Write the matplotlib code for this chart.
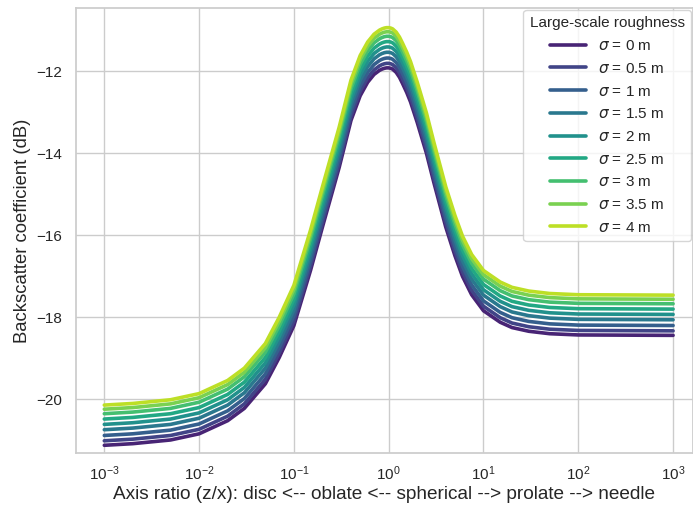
import matplotlib
matplotlib.use("Agg")
import matplotlib.pyplot as plt
from matplotlib.ticker import NullFormatter, NullLocator
import seaborn as sns

# Axis ratio z/x (log scale)
axis_ratio = [0.001, 0.002, 0.005, 0.01, 0.02, 0.03, 0.05, 0.07, 0.1, 0.15,
              0.2, 0.3, 0.4, 0.5, 0.6, 0.7,
              0.8, 0.85, 0.9, 0.95, 1.0, 1.05, 1.1, 1.2, 1.3, 1.4, 1.55, 1.7,
              2.0, 2.5, 3.0, 4.0, 5.0, 6.0, 7.5, 10.0, 15.0, 20.0, 30.0, 50.0,
              100.0, 1000.0]

x_ticks = [1e-3, 1e-2, 1e-1, 1e0, 1e1, 1e2, 1e3]

sigmas = [0, 0.5, 1, 1.5, 2, 2.5, 3, 3.5, 4]

# Backscatter coefficient (dB) for each roughness sigma
bsc_s0 = [-21.12, -21.08, -20.99, -20.84, -20.52, -20.22, -19.62, -18.98, -18.20, -16.85,
          -15.80, -14.35, -13.20, -12.60, -12.27, -12.08,
          -11.98, -11.95, -11.93, -11.92, -11.92, -11.93, -11.95, -12.03, -12.15, -12.30, -12.52, -12.75,
          -13.25, -14.00, -14.72, -15.80, -16.50, -17.00, -17.45, -17.84, -18.12, -18.25, -18.34, -18.40,
          -18.43, -18.44]
bsc_s05 = [-21.01, -20.97, -20.88, -20.73, -20.41, -20.11, -19.51, -18.87, -18.09, -16.74,
           -15.69, -14.24, -13.09, -12.49, -12.16, -11.97,
           -11.87, -11.84, -11.82, -11.81, -11.81, -11.82, -11.84, -11.92, -12.04, -12.19, -12.41, -12.64,
           -13.14, -13.89, -14.61, -15.69, -16.39, -16.89, -17.34, -17.73, -18.01, -18.14, -18.23, -18.29,
           -18.32, -18.33]
bsc_s1 = [-20.88, -20.84, -20.75, -20.60, -20.28, -19.98, -19.38, -18.74, -17.96, -16.61,
          -15.56, -14.11, -12.96, -12.36, -12.03, -11.84,
          -11.74, -11.71, -11.69, -11.68, -11.68, -11.69, -11.71, -11.79, -11.91, -12.06, -12.28, -12.51,
          -13.01, -13.76, -14.48, -15.56, -16.26, -16.76, -17.21, -17.60, -17.88, -18.01, -18.10, -18.16,
          -18.19, -18.20]
bsc_s15 = [-20.74, -20.70, -20.61, -20.46, -20.14, -19.84, -19.24, -18.60, -17.82, -16.47,
           -15.42, -13.97, -12.82, -12.22, -11.89, -11.70,
           -11.60, -11.57, -11.55, -11.54, -11.54, -11.55, -11.57, -11.65, -11.77, -11.92, -12.14, -12.37,
           -12.87, -13.62, -14.34, -15.42, -16.12, -16.62, -17.07, -17.46, -17.74, -17.87, -17.96, -18.02,
           -18.05, -18.06]
bsc_s2 = [-20.61, -20.57, -20.48, -20.33, -20.01, -19.71, -19.11, -18.47, -17.69, -16.34,
          -15.29, -13.84, -12.69, -12.09, -11.76, -11.57,
          -11.47, -11.44, -11.42, -11.41, -11.41, -11.42, -11.44, -11.52, -11.64, -11.79, -12.01, -12.24,
          -12.74, -13.49, -14.21, -15.29, -15.99, -16.49, -16.94, -17.33, -17.61, -17.74, -17.83, -17.89,
          -17.92, -17.93]
bsc_s25 = [-20.48, -20.44, -20.35, -20.20, -19.88, -19.58, -18.98, -18.34, -17.56, -16.21,
           -15.16, -13.71, -12.56, -11.96, -11.63, -11.44,
           -11.34, -11.31, -11.29, -11.28, -11.28, -11.29, -11.31, -11.39, -11.51, -11.66, -11.88, -12.11,
           -12.61, -13.36, -14.08, -15.16, -15.86, -16.36, -16.81, -17.20, -17.48, -17.61, -17.70, -17.76,
           -17.79, -17.80]
bsc_s3 = [-20.35, -20.31, -20.22, -20.07, -19.75, -19.45, -18.85, -18.21, -17.43, -16.08,
          -15.03, -13.58, -12.43, -11.83, -11.50, -11.31,
          -11.21, -11.18, -11.16, -11.15, -11.15, -11.16, -11.18, -11.26, -11.38, -11.53, -11.75, -11.98,
          -12.48, -13.23, -13.95, -15.03, -15.73, -16.23, -16.68, -17.07, -17.35, -17.48, -17.57, -17.63,
          -17.66, -17.67]
bsc_s35 = [-20.24, -20.20, -20.11, -19.96, -19.64, -19.34, -18.74, -18.10, -17.32, -15.97,
           -14.92, -13.47, -12.32, -11.72, -11.39, -11.20,
           -11.10, -11.07, -11.05, -11.04, -11.04, -11.05, -11.07, -11.15, -11.27, -11.42, -11.64, -11.87,
           -12.37, -13.12, -13.84, -14.92, -15.62, -16.12, -16.57, -16.96, -17.24, -17.37, -17.46, -17.52,
           -17.55, -17.56]
bsc_s4 = [-20.14, -20.10, -20.01, -19.86, -19.54, -19.24, -18.64, -18.00, -17.22, -15.87,
          -14.82, -13.37, -12.22, -11.62, -11.29, -11.10,
          -11.00, -10.97, -10.95, -10.94, -10.94, -10.95, -10.97, -11.05, -11.17, -11.32, -11.54, -11.77,
          -12.27, -13.02, -13.74, -14.82, -15.52, -16.02, -16.47, -16.86, -17.14, -17.27, -17.36, -17.42,
          -17.45, -17.46]

curves = [bsc_s0, bsc_s05, bsc_s1, bsc_s15, bsc_s2, bsc_s25, bsc_s3, bsc_s35, bsc_s4]

sns.set_theme(style="whitegrid")
plt.rcParams["font.family"] = ["Liberation Sans", "DejaVu Sans"]

colors = sns.color_palette("viridis", len(sigmas))

fig = plt.figure(figsize=(6.93, 5.15), dpi=100)
ax = fig.add_axes([0.1092, 0.121, 1.0 - 0.1092, 0.9845 - 0.121])

for sigma, values, color in zip(sigmas, curves, colors):
    ax.plot(axis_ratio, values, color=color, linewidth=2.6,
            label=rf"$\sigma$ = {sigma:g} m")

ax.set_xscale("log")
ax.set_xticks(x_ticks)
ax.xaxis.set_minor_locator(NullLocator())
ax.xaxis.set_minor_formatter(NullFormatter())
ax.set_xlim(10 ** -3.302, 10 ** 3.21)
ax.set_ylim(-21.3, -10.46)
ax.set_yticks([-20, -18, -16, -14, -12])

ax.set_xlabel("Axis ratio (z/x): disc <-- oblate <-- spherical --> prolate --> needle",
              fontsize=13.7, labelpad=2)
ax.set_ylabel("Backscatter coefficient (dB)", fontsize=13.3)
ax.tick_params(labelsize=11)
ax.tick_params(axis="x", pad=2.5)

ax.legend(title="Large-scale roughness", loc="upper right", fontsize=11,
          title_fontsize=11, borderaxespad=0.15, labelspacing=0.57,
          handlelength=2.3)

plt.savefig("out.png", dpi=100)
plt.close()
